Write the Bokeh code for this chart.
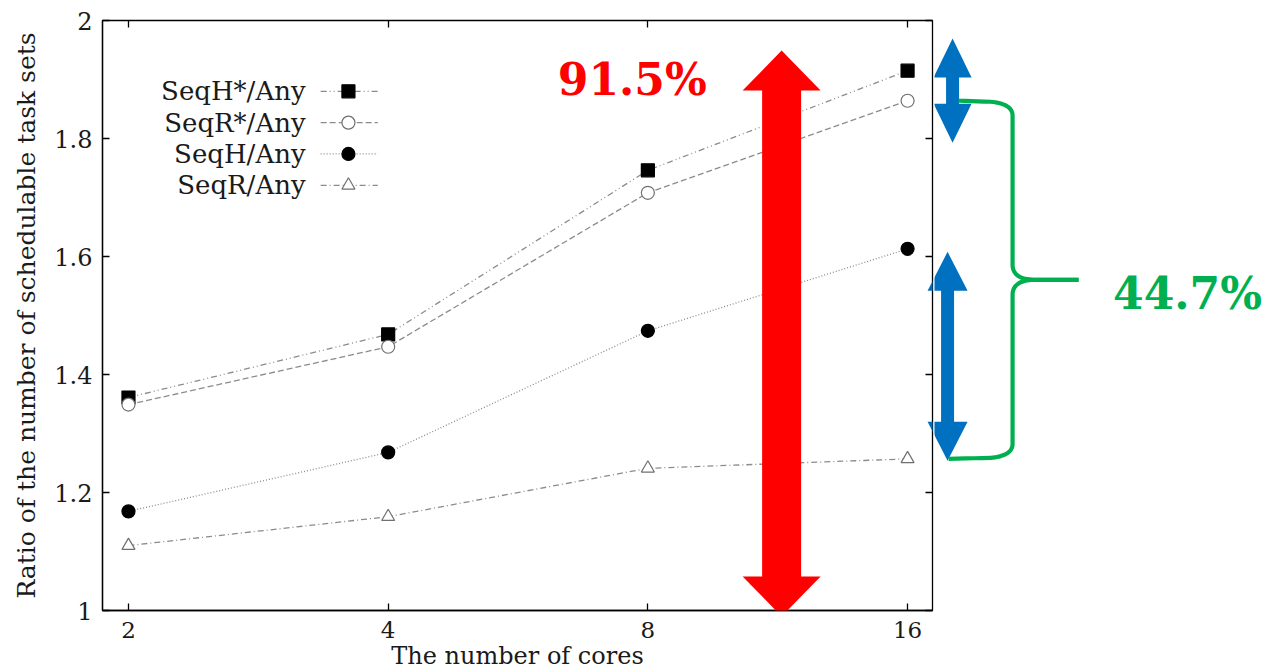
import numpy as np
from bokeh.plotting import figure
from bokeh.layouts import row
from bokeh.models import Range1d, LinearAxis, FixedTicker, Label, PolyAnnotation
from bokeh.embed import file_html
from bokeh.resources import INLINE

# ---------------- data ----------------
cores = [2, 4, 8, 16]
seqh_star = [1.361, 1.468, 1.746, 1.915]
seqr_star = [1.349, 1.447, 1.708, 1.864]
seqh = [1.168, 1.268, 1.474, 1.613]
seqr = [1.110, 1.159, 1.241, 1.257]
series_labels = ["SeqH*/Any", "SeqR*/Any", "SeqH/Any", "SeqR/Any"]
y_ticks = [1.0, 1.2, 1.4, 1.6, 1.8, 2.0]
y_tick_labels = ["1", "1.2", "1.4", "1.6", "1.8", "2"]
x_title = "The number of cores"
y_title = "Ratio of the number of schedulable task sets"
total_gain_text = "91.5%"
gap_text = "44.7%"

# ---------------- styles ----------------
FONT = "DejaVu Serif"
TXT = "#1a1a1a"
LINE_GREY = "#8c8c8c"
RED, BLUE, GREEN = "#ff0000", "#0070c0", "#00b050"
styles = [
    dict(dash="6 3 1 3 1 3", marker="square", fill="black", edge="black"),
    dict(dash="6 3", marker="circle", fill="white", edge="#707070"),
    dict(dash="1 2", marker="circle", fill="black", edge="black"),
    dict(dash="6 3 1 3", marker="triangle", fill="white", edge="#707070"),
]

xpos = np.log2(cores)
X0, X1 = 0.9, 4.096
Y0, Y1 = 1.0, 2.0
FW, FH = 830, 590
XU = (X1 - X0) / FW
YU = (Y1 - Y0) / FH
B_LEFT, B_TOP, B_BOTTOM, B_RIGHT = 102, 20, 59, 2
FWB = 1278 - (B_LEFT + FW + B_RIGHT)

yr = Range1d(Y0, Y1)
p = figure(frame_width=FW, frame_height=FH,
           x_range=Range1d(X0, X1), y_range=yr,
           output_backend="svg", toolbar_location=None,
           min_border_left=B_LEFT, min_border_right=B_RIGHT,
           min_border_top=B_TOP, min_border_bottom=B_BOTTOM,
           background_fill_color="white", border_fill_color="white",
           outline_line_color="black", outline_line_width=1.3)
p.xgrid.visible = False
p.ygrid.visible = False

x_ticker = FixedTicker(ticks=[float(v) for v in xpos])
y_ticker = FixedTicker(ticks=y_ticks)
x_over = {int(v): str(c) for v, c in zip(xpos, cores)}
y_over = {t: s for t, s in zip(y_ticks, y_tick_labels)}


def style_axis(ax, ticker, labels=True):
    ax.ticker = ticker
    ax.major_tick_in = 7
    ax.major_tick_out = 0
    ax.minor_tick_in = 0
    ax.minor_tick_out = 0
    ax.minor_tick_line_color = None
    ax.major_tick_line_color = "black"
    ax.major_tick_line_width = 1.3
    ax.axis_line_color = "black"
    ax.axis_line_width = 1.3
    ax.major_label_text_font = FONT
    ax.major_label_text_font_size = "23px"
    ax.major_label_text_color = TXT
    ax.major_label_standoff = 10
    if not labels:
        ax.major_label_text_font_size = "0px"
        ax.major_label_text_color = None
        ax.major_label_standoff = 0
        ax.axis_line_color = None


xa = p.xaxis[0]
style_axis(xa, x_ticker)
xa.major_label_overrides = x_over
xa.major_label_standoff = 11
xa.axis_label = x_title
xa.axis_label_text_font = FONT
xa.axis_label_text_font_size = "24px"
xa.axis_label_text_font_style = "normal"
xa.axis_label_text_color = TXT
xa.axis_label_standoff = 1

ya = p.yaxis[0]
style_axis(ya, y_ticker)
ya.major_label_text_font_size = "24px"
ya.major_label_overrides = y_over
ya.axis_label = y_title
ya.axis_label_text_font = FONT
ya.axis_label_text_font_size = "25px"
ya.axis_label_text_font_style = "normal"
ya.axis_label_text_color = TXT
ya.axis_label_standoff = 10

top_ax = LinearAxis()
style_axis(top_ax, x_ticker, labels=False)
p.add_layout(top_ax, "above")
right_ax = LinearAxis()
style_axis(right_ax, y_ticker, labels=False)
p.add_layout(right_ax, "right")

# ---------------- series ----------------
series = [seqh_star, seqr_star, seqh, seqr]
for vals, st in zip(series, styles):
    p.line(xpos, vals, line_color=LINE_GREY, line_width=1.3, line_dash=st["dash"])
    p.scatter(xpos, vals, marker=st["marker"], size=13,
              fill_color=st["fill"], line_color=st["edge"], line_width=1.2)

# ---------------- legend (text left, sample right) ----------------
LEG_TX = 1.682
LEG_L0, LEG_L1, LEG_M = 1.74, 1.96, 1.847
LEG_Y0, LEG_DY = 1.880, 0.0531
for i, (lab, st) in enumerate(zip(series_labels, styles)):
    yy = LEG_Y0 - i * LEG_DY
    p.add_layout(Label(x=LEG_TX, y=yy, text=lab, text_font=FONT,
                       text_font_size="26px", text_color=TXT,
                       text_align="right", text_baseline="middle"))
    p.line([LEG_L0, LEG_L1], [yy, yy], line_color=LINE_GREY, line_width=1.3,
           line_dash=st["dash"])
    p.scatter([LEG_M], [yy], marker=st["marker"], size=13,
              fill_color=st["fill"], line_color=st["edge"], line_width=1.2)

# ---------------- side panel for the right-hand annotations ----------------
XB0 = X1 + B_RIGHT * XU
q = figure(frame_width=FWB, frame_height=FH,
           x_range=Range1d(XB0, XB0 + FWB * XU), y_range=yr,
           output_backend="svg", toolbar_location=None,
           x_axis_location=None, y_axis_location=None,
           min_border_left=0, min_border_right=0,
           min_border_top=B_TOP, min_border_bottom=B_BOTTOM,
           background_fill_color="white", border_fill_color="white",
           outline_line_color=None)
q.grid.visible = False


# ---------------- annotations ----------------
def block_arrow(xc, y_lo, y_hi, shaft_px, head_px, len_px, color):
    hs, hh, L = shaft_px / 2 * XU, head_px / 2 * XU, len_px * YU
    xs = [xc, xc + hh, xc + hs, xc + hs, xc + hh, xc, xc - hh, xc - hs, xc - hs, xc - hh]
    ys = [y_hi, y_hi - L, y_hi - L, y_lo + L, y_lo + L, y_lo, y_lo + L, y_lo + L, y_hi - L, y_hi - L]
    return PolyAnnotation(xs=xs, ys=ys, fill_color=color, fill_alpha=1.0,
                          line_color=None, level="overlay")


x16 = xpos[-1]
# red: overall gain, from baseline 1 up past the best series
p.add_layout(block_arrow(3.515, 0.990, 1.949, 39, 78, 40, RED))
# blue: gap at the top and the SeqH..SeqR gap at 16 cores
for fig in (p, q):
    fig.add_layout(block_arrow(x16 + 45 * XU, 1.793, 1.9695, 13, 38, 39, BLUE))
    fig.add_layout(block_arrow(x16 + 40 * XU, seqr[-1] - 0.003, seqh[-1] - 0.005, 13, 40, 39, BLUE))


def qbez(p0, c, p1, n=20):
    t = np.linspace(0, 1, n)[:, None]
    return (1 - t) ** 2 * np.array(p0) + 2 * (1 - t) * t * np.array(c) + t ** 2 * np.array(p1)


def seg(p0, p1, n=6):
    t = np.linspace(0, 1, n)[:, None]
    return (1 - t) * np.array(p0) + t * np.array(p1)


def stroke_poly(parts, w):
    pts = np.vstack(parts).astype(float)
    keep = np.r_[True, np.linalg.norm(np.diff(pts, axis=0), axis=1) > 1e-6]
    pts = pts[keep]
    d = np.gradient(pts, axis=0)
    nrm = np.stack([-d[:, 1], d[:, 0]], axis=1)
    nrm /= np.linalg.norm(nrm, axis=1)[:, None]
    poly = np.vstack([pts + nrm * w / 2, (pts - nrm * w / 2)[::-1]])
    xs = X0 + poly[:, 0] * XU
    ys = Y1 - poly[:, 1] * YU
    return PolyAnnotation(xs=list(xs), ys=list(ys), fill_color=GREEN, fill_alpha=1.0,
                          line_color=None, level="overlay")


# brace between SeqR* and SeqR at 16 cores (pixel space of main frame)
px16 = (x16 - X0) / XU
yt = (Y1 - seqr_star[-1]) / YU
yb = (Y1 - seqr[-1]) / YU
ym = (yt + yb) / 2
arm_t, arm_b, spine, tip = px16 + 51, px16 + 41, px16 + 105, px16 + 171
upper = [seg((arm_t, yt), (spine - 22, yt + 1)),
         qbez((spine - 22, yt + 1), (spine, yt + 3), (spine, yt + 15)),
         seg((spine, yt + 15), (spine, ym - 14)),
         qbez((spine, ym - 14), (spine + 1, ym), (spine + 23, ym)),
         seg((spine + 23, ym), (tip, ym))]
lower = [seg((tip, ym), (spine + 23, ym)),
         qbez((spine + 23, ym), (spine + 1, ym), (spine, ym + 14)),
         seg((spine, ym + 14), (spine, yb - 15)),
         qbez((spine, yb - 15), (spine, yb - 3), (spine - 22, yb - 1)),
         seg((spine - 22, yb - 1), (arm_b, yb))]
q.add_layout(stroke_poly(upper, 4.2))
q.add_layout(stroke_poly(lower, 4.2))

p.add_layout(Label(x=2.94, y=1.90, text=total_gain_text, text_font=FONT,
                   text_font_style="bold", text_font_size="44px", text_color=RED,
                   text_align="center", text_baseline="middle"))
q.add_layout(Label(x=5.078, y=1.537, text=gap_text, text_font=FONT,
                   text_font_style="bold", text_font_size="44px", text_color=GREEN,
                   text_align="center", text_baseline="middle"))

open("out.html", "w").write(file_html(row(p, q), INLINE))
